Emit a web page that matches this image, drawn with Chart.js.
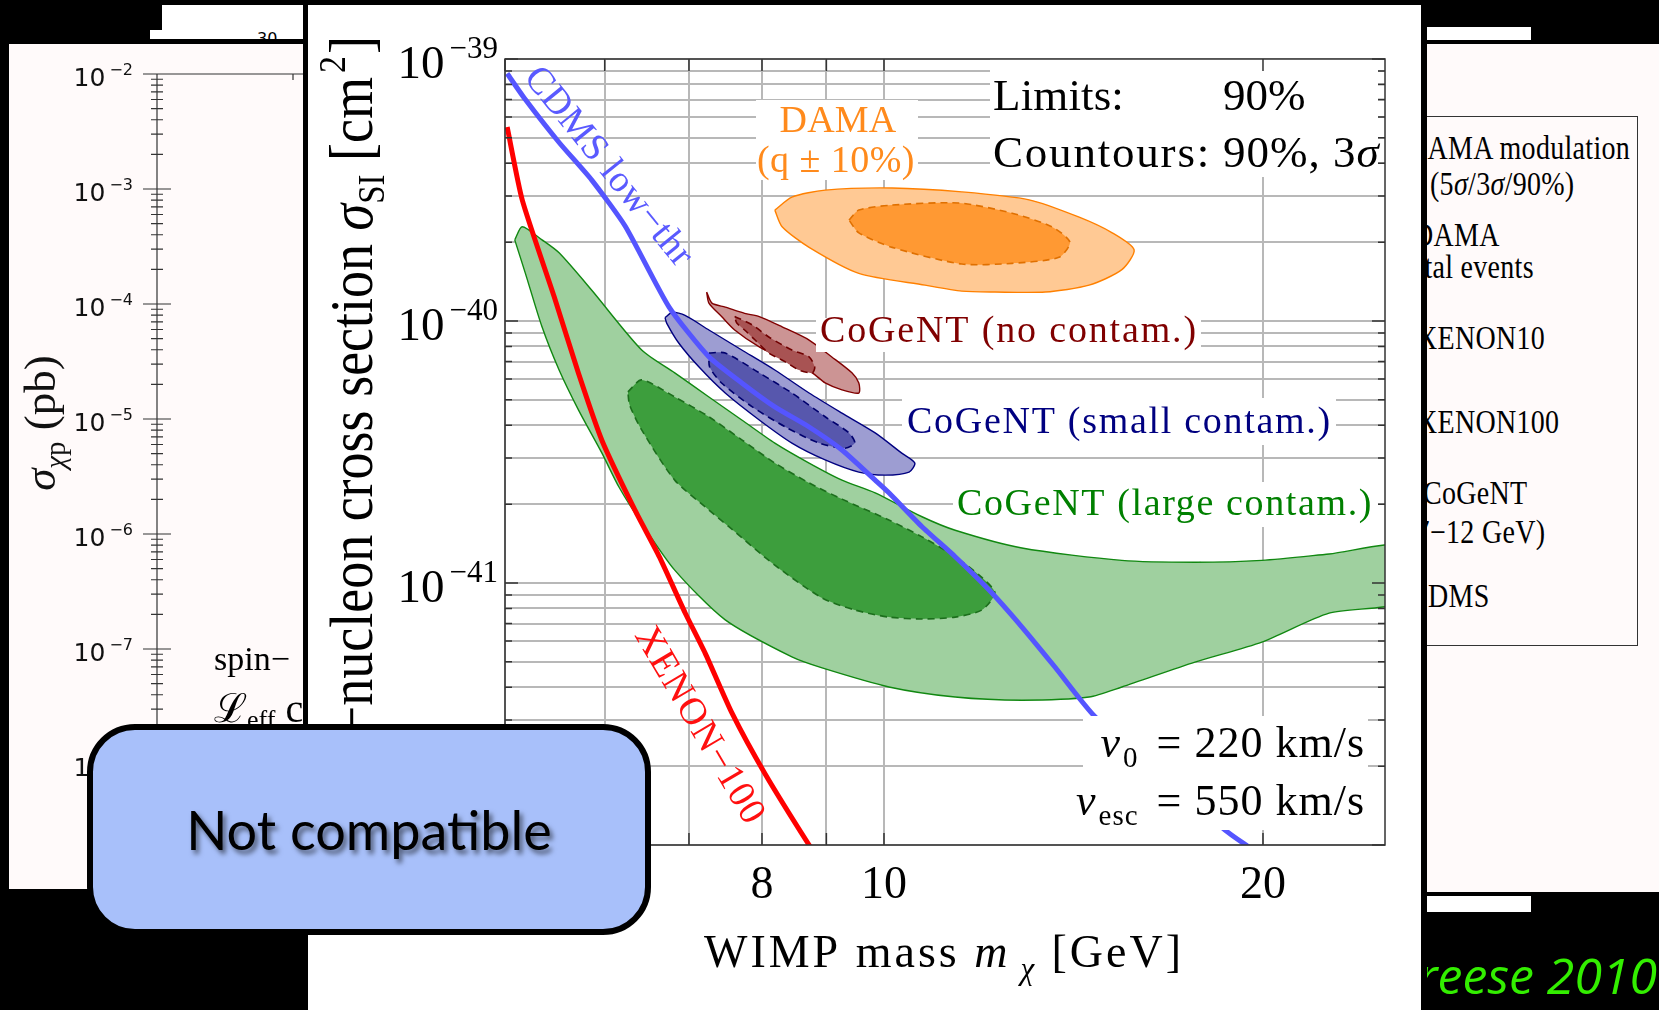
<!DOCTYPE html>
<html>
<head>
<meta charset="utf-8">
<script src="https://cdn.jsdelivr.net/npm/chart.js@4.4.0/dist/chart.umd.min.js"></script>
<style>
html, body { margin: 0; padding: 0; background: #000; width: 1659px; height: 1010px; overflow: hidden; }
body { position: relative; font-family: "Liberation Serif", serif; }
.abs { position: absolute; }
#strip1 { left: 162px; top: 5px; width: 141px; height: 25px; background: #fff; }
#strip2 { left: 150px; top: 30px; width: 153px; height: 9px; background: #fff; overflow: hidden; }
#strip2 span { position: absolute; left: 107px; top: 1px; font: 16px "DejaVu Sans"; line-height: 16px; }
#leftPanel { left: 9px; top: 44px; width: 294px; height: 845px; background: #fffafa; overflow: hidden; }
#mainPanel { left: 303px; top: 5px; width: 1124px; height: 1005px; background: #fff; border-left: 5px solid #000; border-right: 6px solid #000; box-sizing: border-box; }
#rightPanel { left: 1427px; top: 44px; width: 232px; height: 848px; background: #fffafa; overflow: hidden; }
#strip3 { left: 1427px; top: 27px; width: 104px; height: 13px; background: #fff; }
#strip4 { left: 1427px; top: 896px; width: 104px; height: 16px; background: #fff; }
#legendBox { position: absolute; left: -30px; top: 72px; width: 241px; height: 530px; border: 1.5px solid #333; box-sizing: border-box; }
.leg { position: absolute; font-size: 28px; letter-spacing: 0.3px; line-height: 32px; white-space: nowrap; color: #000; transform: scaleY(1.18); }
#credit { left: 1427px; top: 940px; width: 232px; height: 70px; overflow: hidden; }
#credit span { position: absolute; right: 2px; top: 0; font: italic 50px "Open Sans"; line-height: 70px; color: #33ee00; white-space: nowrap; }
#notBox { left: 87px; top: 724px; width: 564px; height: 211px; background: #a8c0fa; border: 6px solid #000; border-radius: 48px; box-sizing: border-box; display: flex; align-items: center; justify-content: center; }
#notBox span { font: 54px "Lato"; color: #000; text-shadow: 3px 4px 5px rgba(0,0,0,0.55); }
</style>
</head>
<body>
<div id="strip1" class="abs"></div>
<div id="strip2" class="abs"><span>30</span></div>
<div id="leftPanel" class="abs"><canvas id="leftChart" width="400" height="845"></canvas></div>
<div id="mainPanel" class="abs"><canvas id="mainChart" width="1113" height="1005"></canvas></div>
<div id="strip3" class="abs"></div>
<div id="rightPanel" class="abs">
  <div id="legendBox"></div>
  <div class="leg" style="left:-20px; top:88px;">DAMA modulation</div>
  <div class="leg" style="left:3px; top:124px;">(5<i>σ</i>/3<i>σ</i>/90%)</div>
  <div class="leg" style="left:-14px; top:175px;">DAMA</div>
  <div class="leg" style="left:-25px; top:207px;">total events</div>
  <div class="leg" style="left:-10px; top:278px;">XENON10</div>
  <div class="leg" style="left:-10px; top:362px;">XENON100</div>
  <div class="leg" style="left:-4px; top:433px;">CoGeNT</div>
  <div class="leg" style="left:-21px; top:472px;">(7−12 GeV)</div>
  <div class="leg" style="left:-18px; top:536px;">CDMS</div>
</div>
<div id="strip4" class="abs"></div>
<div id="credit" class="abs"><span>Freese 2010</span></div>
<div id="notBox" class="abs"><span>Not compatible</span></div>

<script>
// axis ticks and grid values
const xGrid = [5, 6, 7, 8, 9, 10, 20];
const xTickLabels = [8, 10, 20];
const yGrid = [
    1e-42, 2e-42, 3e-42, 4e-42, 5e-42, 6e-42, 7e-42, 8e-42, 9e-42,
    1e-41, 2e-41, 3e-41, 4e-41, 5e-41, 6e-41, 7e-41, 8e-41, 9e-41,
    1e-40, 2e-40, 3e-40, 4e-40, 5e-40, 6e-40, 7e-40, 8e-40, 9e-40,
    1e-39
];
const yTickLabels = [1e-41, 1e-40, 1e-39];

const leftYGrid = [
    1e-9, 2e-9, 3e-9, 4e-9, 5e-9, 6e-9, 7e-9, 8e-9, 9e-9,
    1e-8, 2e-8, 3e-8, 4e-8, 5e-8, 6e-8, 7e-8, 8e-8, 9e-8,
    1e-7, 2e-7, 3e-7, 4e-7, 5e-7, 6e-7, 7e-7, 8e-7, 9e-7,
    1e-6, 2e-6, 3e-6, 4e-6, 5e-6, 6e-6, 7e-6, 8e-6, 9e-6,
    1e-5, 2e-5, 3e-5, 4e-5, 5e-5, 6e-5, 7e-5, 8e-5, 9e-5,
    1e-4, 2e-4, 3e-4, 4e-4, 5e-4, 6e-4, 7e-4, 8e-4, 9e-4,
    1e-3, 2e-3, 3e-3, 4e-3, 5e-3, 6e-3, 7e-3, 8e-3, 9e-3,
    1e-2
];
const leftYTickLabels = [1e-2, 1e-3, 1e-4, 1e-5, 1e-6, 1e-7, 1e-8];

// limit curves [mass GeV, sigma cm^2]
const cdmsLowThr = [
    [5.02, 8.8e-40], [5.19, 7.0e-40], [5.52, 4.8e-40], [5.86, 3.45e-40], [6.23, 2.3e-40],
    [6.75, 1.13e-40], [7.26, 7.3e-41], [7.71, 5.8e-41], [8.19, 4.7e-41], [8.72, 3.94e-41],
    [9.26, 3.22e-41], [9.84, 2.47e-41], [10.09, 2.21e-41], [10.72, 1.64e-41], [11.39, 1.26e-41],
    [12.12, 9.4e-42], [12.87, 6.79e-42], [13.67, 4.78e-42], [14.72, 3.08e-42], [18.66, 1.14e-42],
    [19.5, 9.8e-43]
];
const xenon100 = [
    [5.02, 5.5e-40], [5.16, 2.9e-40], [5.47, 1.24e-40], [5.72, 6.3e-41], [5.97, 3.5e-41],
    [6.34, 1.9e-41], [6.63, 1.26e-41], [6.95, 7.7e-42], [7.21, 5.4e-42], [7.57, 3.2e-42],
    [8.04, 1.88e-42], [8.72, 1.0e-42], [8.8, 9.5e-43]
];

// allowed regions (closed contours)
const cogentLargeOuter = [
    [5.09, 2.04e-40], [5.16, 2.29e-40], [5.35, 2.04e-40], [5.52, 1.82e-40], [5.86, 1.31e-40],
    [6.42, 7.75e-41], [6.82, 6.34e-41], [7.26, 5.13e-41], [7.71, 4.19e-41], [8.19, 3.42e-41],
    [8.72, 2.87e-41], [9.26, 2.47e-41], [9.84, 2.21e-41], [10.72, 1.79e-41], [11.39, 1.59e-41],
    [12.87, 1.36e-41], [15.45, 1.22e-41], [17.66, 1.2e-41], [19.96, 1.22e-41], [22.57, 1.29e-41],
    [26, 1.38e-41], [26, 8.6e-42], [22.57, 7.67e-42], [19.96, 5.95e-42], [17.66, 4.99e-42],
    [15.45, 4.01e-42], [14.55, 3.67e-42], [12.87, 3.57e-42], [11.39, 3.67e-42], [10.09, 4.01e-42],
    [8.93, 4.74e-42], [8.45, 5.22e-42], [7.48, 7.23e-42], [6.82, 1.12e-41], [6.42, 1.69e-41],
    [6.16, 2.32e-41], [5.97, 3.13e-41], [5.72, 4.57e-41], [5.52, 6.5e-41], [5.35, 9.5e-41],
    [5.19, 1.52e-40]
];
const cogentLargeInner = [
    [6.26, 5.36e-41], [6.42, 5.96e-41], [6.82, 5.13e-41], [7.26, 4.31e-41], [7.71, 3.52e-41],
    [8.19, 2.87e-41], [8.72, 2.41e-41], [9.26, 2.09e-41], [10.09, 1.74e-41], [10.72, 1.5e-41],
    [11.39, 1.26e-41], [11.96, 1.05e-41], [12.25, 9.16e-42], [11.96, 7.89e-42], [11.39, 7.41e-42],
    [10.72, 7.29e-42], [10.09, 7.41e-42], [9.48, 7.89e-42], [8.93, 8.77e-42], [8.19, 1.17e-41],
    [7.53, 1.64e-41], [7.26, 1.9e-41], [6.82, 2.47e-41], [6.42, 3.84e-41], [6.28, 4.78e-41]
];
const cogentSmallOuter = [
    [6.70, 1.03e-40], [6.79, 1.08e-40], [6.95, 1.05e-40], [7.26, 9.24e-41], [7.71, 7.75e-41],
    [8.19, 6.5e-41], [8.72, 5.31e-41], [9.26, 4.45e-41], [9.84, 3.74e-41], [10.33, 3.13e-41],
    [10.58, 2.87e-41], [10.47, 2.65e-41], [10.02, 2.58e-41], [9.55, 2.65e-41], [8.98, 2.95e-41],
    [8.45, 3.42e-41], [7.96, 4.19e-41], [7.48, 5.31e-41], [7.13, 6.67e-41], [6.87, 8.24e-41],
    [6.72, 9.82e-41]
];
const cogentSmallInner = [
    [7.26, 7.55e-41], [7.48, 7.55e-41], [7.96, 6.34e-41], [8.45, 5.31e-41], [8.98, 4.31e-41],
    [9.38, 3.74e-41], [9.48, 3.42e-41], [9.31, 3.27e-41], [8.88, 3.42e-41], [8.35, 3.94e-41],
    [7.86, 4.7e-41], [7.43, 5.8e-41], [7.27, 6.67e-41]
];
const cogentNoOuter = [
    [7.23, 1.29e-40], [7.30, 1.17e-40], [7.48, 1.13e-40], [7.75, 1.07e-40], [7.96, 1.04e-40],
    [8.30, 9.5e-41], [8.72, 8.46e-41], [9.09, 7.29e-41], [9.43, 6.34e-41], [9.55, 5.8e-41],
    [9.55, 5.31e-41], [9.26, 5.46e-41], [8.98, 5.8e-41], [8.77, 6.34e-41], [8.35, 7.1e-41],
    [7.96, 7.96e-41], [7.61, 9.24e-41], [7.43, 1.04e-40], [7.26, 1.17e-40]
];
const cogentNoInner = [
    [7.61, 1.04e-40], [7.86, 9.66e-41], [8.10, 8.69e-41], [8.45, 7.75e-41], [8.72, 7.29e-41],
    [8.81, 6.67e-41], [8.77, 6.34e-41], [8.56, 6.5e-41], [8.35, 6.98e-41], [8.10, 7.55e-41],
    [7.90, 8.46e-41], [7.75, 9.24e-41], [7.64, 9.82e-41]
];
const damaOuter = [
    [8.19, 2.65e-40], [8.45, 2.97e-40], [8.98, 3.16e-40], [10.15, 3.22e-40], [11.53, 3.11e-40],
    [13.04, 2.9e-40], [14.29, 2.49e-40], [15.18, 2.17e-40], [15.80, 1.87e-40], [15.45, 1.57e-40],
    [14.55, 1.37e-40], [13.43, 1.29e-40], [12.25, 1.29e-40], [11.53, 1.3e-40], [10.78, 1.37e-40],
    [9.55, 1.52e-40], [8.72, 1.91e-40], [8.30, 2.29e-40]
];
const damaInner = [
    [9.38, 2.43e-40], [9.55, 2.65e-40], [10.15, 2.77e-40], [11.47, 2.82e-40], [12.64, 2.58e-40],
    [13.59, 2.29e-40], [14.05, 2.0e-40], [13.77, 1.75e-40], [12.64, 1.66e-40], [11.53, 1.65e-40],
    [10.15, 1.91e-40], [9.55, 2.17e-40]
];

const SERIF = '"Liberation Serif", "DejaVu Serif", serif';
const font = (size, style) => (style ? style + ' ' : '') + size + 'px ' + SERIF;
const OX = 308, OY = 5; // main canvas offset on the page

function isDecade(v) {
    const l = Math.log10(v);
    return Math.abs(l - Math.round(l)) < 1e-9;
}

function runsWidth(ctx, runs) {
    let w = 0;
    for (const r of runs) {
        ctx.font = r.f;
        w += ctx.measureText(r.t).width + (r.dx || 0);
    }
    return w;
}

function drawRuns(ctx, runs, x, y, align) {
    const w = runsWidth(ctx, runs);
    let cx = align === 'right' ? x - w : align === 'center' ? x - w / 2 : x;
    ctx.textAlign = 'left';
    ctx.textBaseline = 'alphabetic';
    for (const r of runs) {
        ctx.font = r.f;
        cx += (r.dx || 0);
        ctx.fillText(r.t, cx, y + (r.dy || 0));
        cx += ctx.measureText(r.t).width;
    }
}

function fitText(ctx, text, x, y, width, align) {
    ctx.letterSpacing = '0px';
    const natural = ctx.measureText(text).width;
    const ls = (width - natural) / text.length;
    ctx.letterSpacing = ls.toFixed(2) + 'px';
    ctx.textAlign = 'left';
    ctx.textBaseline = 'alphabetic';
    const sx = align === 'center' ? x - width / 2 : x;
    ctx.fillText(text, sx, y);
    ctx.letterSpacing = '0px';
}

const mainDecor = {
    id: 'mainDecor',
    afterDatasetsDraw(chart) {
        const {ctx, chartArea: a, scales: {x, y}} = chart;
        ctx.save();

        // white boxes behind the labels
        ctx.fillStyle = '#fff';
        [[756, 100, 918, 180], [990, 59, 1378, 177], [816, 318, 1201, 352],
         [902, 398, 1336, 445], [953, 482, 1378, 527], [1083, 716, 1368, 830]]
            .forEach(([x0, y0, x1, y1]) => ctx.fillRect(x0 - OX, y0 - OY, x1 - x0, y1 - y0));

        // frame and ticks
        ctx.strokeStyle = '#333';
        ctx.lineWidth = 1.5;
        ctx.strokeRect(a.left, a.top, a.right - a.left, a.bottom - a.top);
        ctx.beginPath();
        yGrid.forEach(v => {
            const py = y.getPixelForValue(v);
            const len = isDecade(v) ? 13 : 7;
            ctx.moveTo(a.left, py); ctx.lineTo(a.left + len, py);
            ctx.moveTo(a.right, py); ctx.lineTo(a.right - len, py);
        });
        xGrid.forEach(v => {
            const pxv = x.getPixelForValue(v);
            ctx.moveTo(pxv, a.top); ctx.lineTo(pxv, a.top + 12);
            ctx.moveTo(pxv, a.bottom); ctx.lineTo(pxv, a.bottom - 12);
        });
        ctx.stroke();

        // tick labels
        ctx.fillStyle = '#000';
        yTickLabels.forEach(v => {
            const py = y.getPixelForValue(v);
            const e = Math.round(-Math.log10(v));
            drawRuns(ctx, [
                {t: '10', f: font(47)},
                {t: '−' + e, f: font(31), dy: -20, dx: 5}
            ], 498 - OX, py + 19, 'right');
        });
        xTickLabels.forEach(v => {
            ctx.font = font(46);
            ctx.textAlign = 'center';
            ctx.textBaseline = 'alphabetic';
            ctx.fillText(String(v), x.getPixelForValue(v), 898 - OY);
        });

        // axis titles
        ctx.letterSpacing = '3px';
        drawRuns(ctx, [
            {t: 'WIMP mass ', f: font(46)},
            {t: 'm', f: font(46, 'italic')},
            {t: 'χ', f: font(31, 'italic'), dy: 12, dx: 10},
            {t: ' [GeV]', f: font(46)}
        ], 944 - OX, 967 - OY, 'center');
        ctx.letterSpacing = '0px';

        ctx.save();
        ctx.translate(372 - OX, 36 - OY);
        ctx.rotate(-Math.PI / 2);
        ctx.scale(1, 1.12);
        drawRuns(ctx, [
            {t: 'WIMP−nucleon cross section ', f: font(54)},
            {t: 'σ', f: font(54, 'italic')},
            {t: 'SI', f: font(33), dy: 11},
            {t: ' [cm', f: font(54)},
            {t: '2', f: font(34), dy: -24, dx: 4},
            {t: ']', f: font(54), dx: 2}
        ], 0, 0, 'right');
        ctx.restore();

        // annotations
        ctx.fillStyle = '#ff8a1c';
        ctx.font = font(38);
        fitText(ctx, 'DAMA', 838 - OX, 132 - OY, 117, 'center');
        fitText(ctx, '(q ± 10%)', 836 - OX, 172 - OY, 158, 'center');

        ctx.fillStyle = '#000';
        ctx.font = font(45);
        fitText(ctx, 'Limits:', 993 - OX, 110 - OY, 131);
        ctx.fillText('90%', 1223 - OX, 110 - OY);
        fitText(ctx, 'Countours:', 993 - OX, 167 - OY, 218);
        ctx.letterSpacing = '1px';
        drawRuns(ctx, [{t: '90%, 3', f: font(45)}, {t: 'σ', f: font(45, 'italic')}], 1223 - OX, 167 - OY, 'left');
        ctx.letterSpacing = '0px';

        ctx.font = font(38);
        ctx.fillStyle = '#800000';
        fitText(ctx, 'CoGeNT (no contam.)', 820 - OX, 342 - OY, 378);
        ctx.fillStyle = '#000080';
        fitText(ctx, 'CoGeNT (small contam.)', 907 - OX, 433 - OY, 425);
        ctx.fillStyle = '#008000';
        fitText(ctx, 'CoGeNT (large contam.)', 957 - OX, 515 - OY, 416);

        ctx.fillStyle = '#000';
        ctx.letterSpacing = '1px';
        drawRuns(ctx, [
            {t: 'v', f: font(44, 'italic')},
            {t: '0', f: font(29), dy: 10, dx: 2},
            {t: ' = 220 km/s', f: font(44), dx: 6}
        ], 1365 - OX, 757 - OY, 'right');
        drawRuns(ctx, [
            {t: 'v', f: font(44, 'italic')},
            {t: 'esc', f: font(29), dy: 10, dx: 2},
            {t: ' = 550 km/s', f: font(44), dx: 6}
        ], 1365 - OX, 815 - OY, 'right');
        ctx.letterSpacing = '0px';

        // labels along the limit curves
        ctx.save();
        ctx.translate(523 - OX, 78 - OY);
        ctx.rotate(51 * Math.PI / 180);
        ctx.fillStyle = '#5a5aff';
        ctx.font = font(38);
        fitText(ctx, 'CDMS low−thr', 0, 0, 246);
        ctx.restore();

        ctx.save();
        ctx.translate(634 - OX, 635 - OY);
        ctx.rotate(59.6 * Math.PI / 180);
        ctx.fillStyle = '#ff1010';
        ctx.font = font(38);
        fitText(ctx, 'XENON−100', 0, 0, 223);
        ctx.restore();

        ctx.restore();
    }
};

const closed = pts => pts.concat([pts[0]]);
const toXY = pts => pts.map(([x, y]) => ({x, y}));

function region(label, pts, fillColor, lineColor, order, dashed) {
    return {
        label,
        data: toXY(closed(pts)),
        showLine: true,
        pointRadius: 0,
        tension: 0.25,
        fill: 'shape',
        backgroundColor: fillColor,
        borderColor: lineColor,
        borderWidth: dashed ? 1.6 : 1.4,
        borderDash: dashed ? [7, 5] : [],
        order
    };
}

function limit(label, pts, color, order) {
    return {
        label,
        data: toXY(pts),
        showLine: true,
        pointRadius: 0,
        tension: 0.2,
        fill: false,
        borderColor: color,
        borderWidth: 5,
        order
    };
}

new Chart(document.getElementById('mainChart'), {
    type: 'scatter',
    data: {
        datasets: [
            region('CoGeNT large contam. 3σ', cogentLargeOuter, '#9fd09f', '#118811', 10, false),
            region('CoGeNT large contam. 90%', cogentLargeInner, '#3d9e3d', '#1c6e1c', 9, true),
            region('CoGeNT small contam. 3σ', cogentSmallOuter, '#9d9dd2', '#000080', 8, false),
            region('CoGeNT small contam. 90%', cogentSmallInner, '#5757ad', '#00006e', 7, true),
            region('CoGeNT no contam. 3σ', cogentNoOuter, '#cc9494', '#800000', 6, false),
            region('CoGeNT no contam. 90%', cogentNoInner, '#a85353', '#700000', 5, true),
            region('DAMA 3σ', damaOuter, '#ffc994', '#ff8000', 4, false),
            region('DAMA 90%', damaInner, '#ff9933', '#e07000', 3, true),
            limit('CDMS low-thr', cdmsLowThr, '#5555ff', 2),
            limit('XENON-100', xenon100, '#ff0000', 1)
        ]
    },
    options: {
        responsive: false,
        animation: false,
        layout: {padding: {left: 197, right: 36, top: 54, bottom: 165}},
        plugins: {legend: {display: false}, tooltip: {enabled: false}},
        scales: {
            x: {
                type: 'logarithmic',
                min: 5,
                max: 25,
                bounds: 'data',
                ticks: {display: false},
                grid: {color: '#b8b8b8', lineWidth: 2, drawTicks: false},
                border: {display: false},
                afterBuildTicks: s => { s.ticks = xGrid.map(v => ({value: v})); },
                afterFit: s => { s.height = 0; }
            },
            y: {
                type: 'logarithmic',
                min: 1e-42,
                max: 1e-39,
                bounds: 'data',
                ticks: {display: false},
                grid: {color: '#b8b8b8', lineWidth: 2, drawTicks: false},
                border: {display: false},
                afterBuildTicks: s => { s.ticks = yGrid.map(v => ({value: v})); },
                afterFit: s => { s.width = 0; }
            }
        }
    },
    plugins: [mainDecor]
});

// left (partly hidden) panel
const leftDecor = {
    id: 'leftDecor',
    afterDraw(chart) {
        const {ctx, chartArea: a, scales: {y}} = chart;
        ctx.save();
        ctx.strokeStyle = '#333';
        ctx.lineWidth = 1.2;
        ctx.beginPath();
        ctx.moveTo(a.left, a.top); ctx.lineTo(a.left, a.bottom);
        ctx.moveTo(a.left - 14, a.top); ctx.lineTo(a.right, a.top);
        leftYGrid.forEach(v => {
            const py = y.getPixelForValue(v);
            const len = isDecade(v) ? 14 : 6;
            ctx.moveTo(a.left - len, py); ctx.lineTo(a.left + len, py);
        });
        ctx.moveTo(284, a.top); ctx.lineTo(284, a.top + 6);
        ctx.stroke();

        ctx.fillStyle = '#111';
        leftYTickLabels.forEach(v => {
            const py = y.getPixelForValue(v);
            const e = Math.round(-Math.log10(v));
            drawRuns(ctx, [
                {t: '10', f: '25px "DejaVu Sans"'},
                {t: '−' + e, f: '16px "DejaVu Sans"', dy: -11, dx: 4}
            ], 124, py + 12, 'right');
        });

        ctx.save();
        ctx.translate(46, 379);
        ctx.rotate(-Math.PI / 2);
        drawRuns(ctx, [
            {t: 'σ', f: font(45, 'italic')},
            {t: 'χ', f: font(29, 'italic'), dy: 10},
            {t: 'p', f: font(29), dy: 10},
            {t: ' (pb)', f: font(45)}
        ], 0, 0, 'center');
        ctx.restore();

        ctx.fillStyle = '#000';
        drawRuns(ctx, [{t: 'spin−', f: font(34)}], 205, 626, 'left');
        drawRuns(ctx, [
            {t: 'ℒ', f: font(40)},
            {t: 'eff', f: font(26), dy: 6},
            {t: ' c', f: font(40)}
        ], 205, 678, 'left');
        ctx.restore();
    }
};

new Chart(document.getElementById('leftChart'), {
    type: 'scatter',
    data: {datasets: []},
    options: {
        responsive: false,
        animation: false,
        layout: {padding: {left: 148, right: 0, top: 30, bottom: 10}},
        plugins: {legend: {display: false}, tooltip: {enabled: false}},
        scales: {
            x: {type: 'linear', min: 0, max: 1, display: false},
            y: {
                type: 'logarithmic',
                min: 1e-9,
                max: 1e-2,
                bounds: 'data',
                ticks: {display: false},
                grid: {display: false},
                border: {display: false},
                afterBuildTicks: s => { s.ticks = leftYGrid.map(v => ({value: v})); },
                afterFit: s => { s.width = 0; }
            }
        }
    },
    plugins: [leftDecor]
});
</script>
</body>
</html>
